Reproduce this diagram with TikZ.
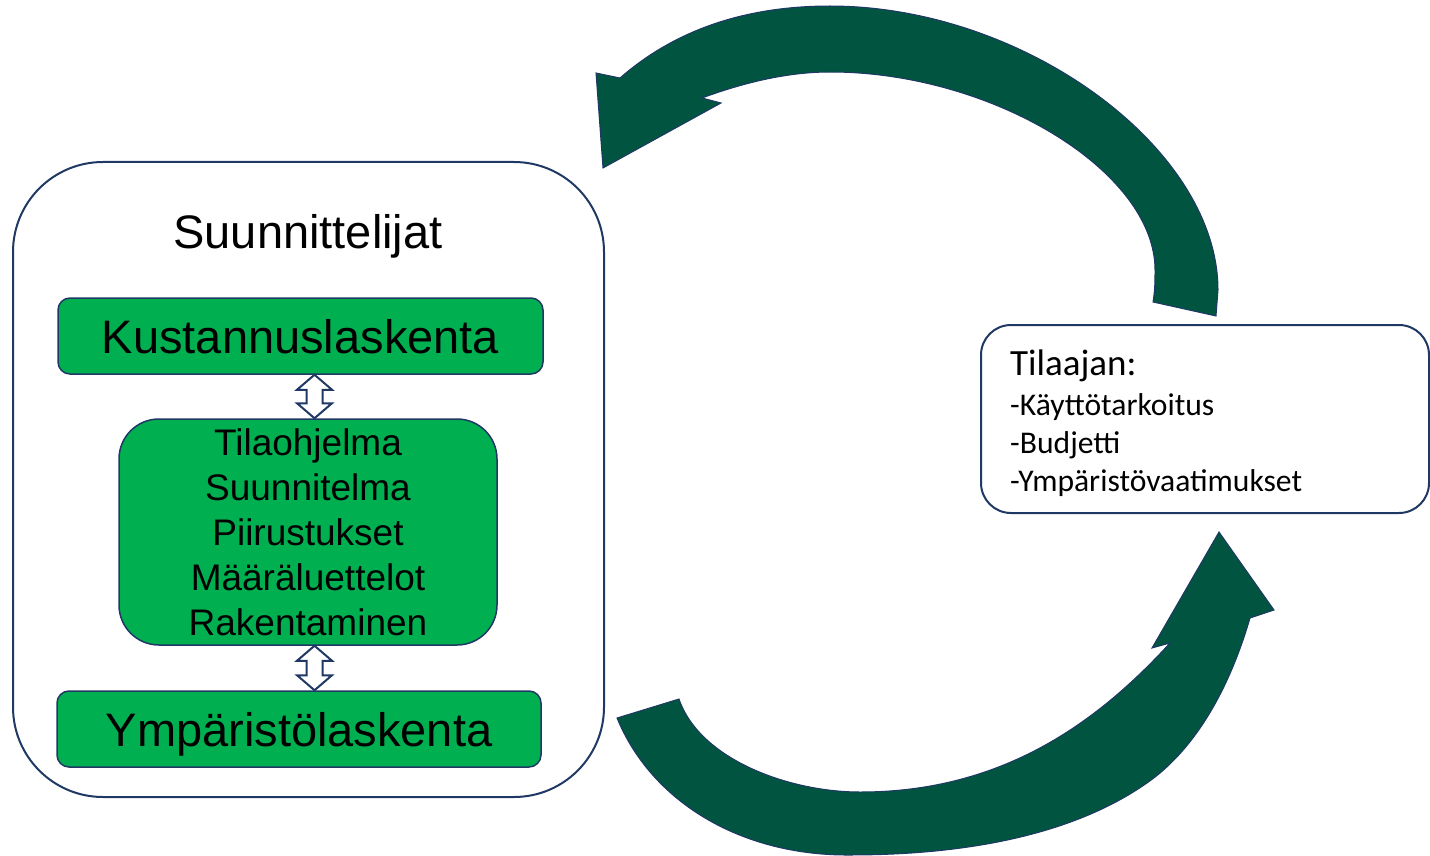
\documentclass[tikz,border=0pt]{standalone}
\usepackage{fontspec}
\setmainfont{Liberation Sans}
\newfontfamily\calibri{Carlito}
\usepackage{tikz}
\usetikzlibrary{calc}
\definecolor{navy}{HTML}{1F3864}
\definecolor{boxgreen}{HTML}{00B050}
\definecolor{arrowgreen}{HTML}{005440}

\begin{document}
\begin{tikzpicture}[x=1pt, y=-1pt,
	greenbox/.style={draw=navy, line width=1.5pt, fill=boxgreen, rounded corners=12pt,
	minimum width=485pt, minimum height=76pt, text height=34pt, text depth=0pt,
	inner sep=0pt, font=\fontsize{47}{56}\selectfont},
	dblarrow/.style={draw=navy, line width=2pt, fill=white},
	bigarrow/.style={draw=navy, line width=1pt, fill=arrowgreen}
]
	\useasboundingbox (0,0) rectangle (1430,856);

	\node[draw=navy, line width=2pt, rounded corners=90pt,
		minimum width=591pt, minimum height=635pt] (suun) at (308.5,479.5) {};
	\node[anchor=base, font=\fontsize{47}{56}\selectfont] (title) at (308,248) {Suunnittelijat};

	\node[greenbox] (kust) at (300.5,336) {Kustannuslaskenta};
	\node[draw=navy, line width=1.5pt, fill=boxgreen, rounded corners=40pt,
		minimum width=378pt, minimum height=226pt, align=center,
		font=\fontsize{37}{45}\selectfont]
	(plan) at (308,532) {Tilaohjelma\\Suunnitelma\\Piirustukset\\Määräluettelot\\Rakentaminen};
	\node[greenbox, minimum width=484pt] (ymp) at (299,729) {Ympäristölaskenta};

	\coordinate (axis) at (314.5,0);
	\foreach \a/\b in {kust/plan, plan/ymp}
		\draw[dblarrow] (\a.south -| axis) -- ++(17.5,15) -- ++(-9.5,0)
			-- ($(\b.north -| axis)+(8,-15)$) -- ++(9.5,0) -- (\b.north -| axis)
			-- ++(-17.5,-15) -- ++(9.5,0) -- ($(\a.south -| axis)+(-8,15)$)
			-- ++(-9.5,0) -- cycle;

	\node[draw=navy, line width=2pt, fill=white, rounded corners=30pt,
		minimum width=448pt, minimum height=188pt] (tilaaja) at (1205,419) {};
	\node[anchor=base west, inner sep=0pt, text width=390pt, align=left,
		font=\calibri\fontsize{31.6}{38}\selectfont]
	(tilaajatext) at (1010,375) {{\fontsize{37}{40}\selectfont Tilaajan:}\\[2pt]
		-Käyttötarkoitus\\-Budjetti\\-Ympäristövaatimukset};

	\filldraw[bigarrow] (1216,316) -- (1153,302)
		.. controls (1155,290) and (1155,280) .. (1155,270)
		.. controls (1155,171) and (992,72) .. (830,72)
		.. controls (785,72) and (740,84) .. (702,98)
		-- (721,103) -- (603,168) -- (596,73) -- (620,78)
		.. controls (668,36) and (735,6) .. (830,6)
		.. controls (1024,6) and (1218,148) .. (1218,290)
		-- cycle;

	\filldraw[bigarrow] (617,718) -- (679,699)
		.. controls (700,760) and (790,792) .. (860,792)
		.. controls (1000,792) and (1095,725) .. (1170,643)
		-- (1152,648) -- (1219,532) -- (1274,610) -- (1250,618)
		.. controls (1232,680) and (1200,746) .. (1147,783)
		.. controls (1070,837) and (960,855) .. (850,855)
		.. controls (740,856) and (651,801) .. (617,718)
		-- cycle;
\end{tikzpicture}
\end{document}
